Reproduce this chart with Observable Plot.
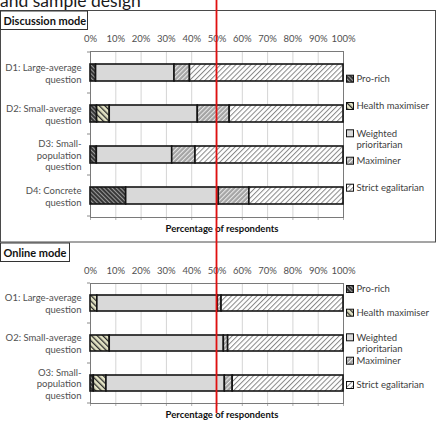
<!DOCTYPE html>
<html>
<head>
<meta charset="utf-8">
<script src="https://cdn.jsdelivr.net/npm/d3@7"></script>
<script src="https://cdn.jsdelivr.net/npm/@observablehq/plot@0.6"></script>
<style>
  html, body { margin: 0; padding: 0; background: #fff; }
  #page { position: relative; width: 438px; height: 424px; overflow: hidden; background: #fff; font-family: Lato, sans-serif; }
  #page > .panel { position: absolute; left: 0; }
  #overlay { position: absolute; left: 0; top: 0; pointer-events: none; }
</style>
</head>
<body>
<div id="page"></div>
<script>
// Respondent types, in stacking order
const types = ["Pro-rich", "Health maximiser", "Weighted prioritarian", "Maximiner", "Strict egalitarian"];

// Percentage axis ticks
const xTicks = [0, 10, 20, 30, 40, 50, 60, 70, 80, 90, 100];

// Discussion mode (percent of respondents)
const discussionQuestions = ["D1: Large-average\nquestion", "D2: Small-average\nquestion", "D3: Small-\npopulation\nquestion", "D4: Concrete\nquestion"];
const discussionProRich   = [2.2, 2.6, 2.5, 14.1];
const discussionHealthMax = [0, 5.0, 0, 0];
const discussionWeighted  = [31.0, 34.8, 29.8, 36.6];
const discussionMaximiner = [6.1, 12.6, 9.2, 12.1];
const discussionStrict    = [60.7, 45.0, 58.5, 37.2];

// Online mode (percent of respondents)
const onlineQuestions = ["O1: Large-average\nquestion", "O2: Small-average\nquestion", "O3: Small-\npopulation\nquestion"];
const onlineProRich   = [0, 0, 1.3];
const onlineHealthMax = [2.7, 7.6, 5.0];
const onlineWeighted  = [47.6, 45.1, 46.8];
const onlineMaximiner = [1.5, 1.7, 3.1];
const onlineStrict    = [48.2, 45.6, 43.8];

const page = d3.select("#page");

// Overlay holds the hatch patterns plus the panel furniture
const overlay = page.append("svg").attr("id", "overlay").attr("width", 438).attr("height", 424);
const defs = overlay.append("defs");
const hatches = [
  { bg: "#353535", line: "#9a9a9a", size: 3, angle: -45, w: 1.1 },
  { bg: "#e3e3c4", line: "#2e2e2e", size: 4, angle: -45, w: 1.6 },
  { bg: "#d9d9d9", line: null },
  { bg: "#a4a4a4", line: "#ececec", size: 3.2, angle: 45, w: 1 },
  { bg: "#ffffff", line: "#888888", size: 3.6, angle: 45, w: 1 }
];
hatches.forEach((h, i) => {
  const p = defs.append("pattern").attr("id", `hatch-${i}`)
    .attr("patternUnits", "userSpaceOnUse")
    .attr("width", h.size || 4).attr("height", h.size || 4);
  if (h.angle) p.attr("patternTransform", `rotate(${h.angle})`);
  p.append("rect").attr("width", h.size || 4).attr("height", h.size || 4).attr("fill", h.bg);
  if (h.line) p.append("line").attr("x1", 0.5).attr("x2", 0.5).attr("y1", 0).attr("y2", h.size)
    .attr("stroke", h.line).attr("stroke-width", h.w);
});

function panel(questions, series, top, height, pad) {
  const rows = [];
  questions.forEach((q, i) => types.forEach((t, j) => {
    const v = series[j][i];
    if (v > 0) rows.push({ question: q, type: t, value: v });
  }));
  const plot = Plot.plot({
    width: 438, height,
    marginLeft: 90, marginRight: 95, marginTop: 21, marginBottom: 5,
    style: { background: "transparent", fontFamily: "Lato, sans-serif", fontSize: "9.5px", color: "#505050" },
    x: { domain: [0, 100] },
    y: { domain: questions, paddingInner: pad, paddingOuter: pad / 2 },
    color: { domain: types, range: types.map((t, i) => `url(#hatch-${i})`) },
    marks: [
      Plot.gridX(xTicks, { stroke: "#d4d4d4", strokeOpacity: 1 }),
      Plot.axisX(xTicks, { anchor: "top", tickSize: 0, tickPadding: 10, tickFormat: d => d + "%", label: null }),
      Plot.axisX(xTicks, { anchor: "bottom", tickSize: 3, tickFormat: () => "", label: null, stroke: "#b0b0b0" }),
      Plot.frame({ stroke: "#7a7a7a" }),
      Plot.axisY({ tickSize: 0, tickPadding: 9, label: null, lineHeight: 1.23 }),
      Plot.barX(rows, Plot.stackX({ x: "value", y: "question", fill: "type", order: types, stroke: "#141414", strokeWidth: 1.6 }))
    ]
  });
  plot.classList.add("panel");
  plot.style.top = top + "px";
  plot.style.position = "absolute";
  page.node().insertBefore(plot, overlay.node());

  // short ticks on the left edge at the band boundaries
  const y = plot.scale("y"), x = plot.scale("x");
  const gap = (y.step - y.bandwidth) / 2;
  const bounds = questions.map(q => y.apply(q) - gap);
  bounds.push(y.apply(questions[questions.length - 1]) + y.bandwidth + gap);
  d3.select(plot).append("g").selectAll("line").data(bounds).join("line")
    .attr("x1", x.apply(0) - 3).attr("x2", x.apply(0))
    .attr("y1", d => d).attr("y2", d => d)
    .attr("stroke", "#8a8a8a");
  return { plot, x, top, height };
}

const discussion = panel(discussionQuestions,
  [discussionProRich, discussionHealthMax, discussionWeighted, discussionMaximiner, discussionStrict], 30, 192, 0.58);
const online = panel(onlineQuestions,
  [onlineProRich, onlineHealthMax, onlineWeighted, onlineMaximiner, onlineStrict], 262, 146, 0.59);

// Section heading carried over from the page above
overlay.append("text").attr("x", 0).attr("y", 7)
  .attr("font-size", 17.5).attr("fill", "#1a1a1a").text("and sample design");

// Panel outline
overlay.append("rect").attr("x", 0.5).attr("y", 10.5).attr("width", 435).attr("height", 231.5)
  .attr("fill", "none").attr("stroke", "#4a4a4a");

function modeLabel(text, y0, w) {
  overlay.append("rect").attr("x", 0.5).attr("y", y0 + 0.5).attr("width", w).attr("height", 18.5)
    .attr("fill", "#fff").attr("stroke", "#333");
  overlay.append("text").attr("x", 3.5).attr("y", y0 + 14)
    .attr("font-size", 11).attr("font-weight", "bold").attr("fill", "#111").text(text);
}
modeLabel("Discussion mode", 10.5, 87);
modeLabel("Online mode", 242.5, 69);

function axisTitle(y) {
  overlay.append("text").attr("x", 222).attr("y", y).attr("dy", "0.35em")
    .attr("text-anchor", "middle").attr("font-size", 9.5).attr("font-weight", "bold")
    .attr("fill", "#111").text("Percentage of respondents");
}
axisTitle(229);
axisTitle(415);

function legend(ys) {
  types.forEach((t, i) => {
    const cy = ys[i];
    overlay.append("rect").attr("x", 346.5).attr("y", cy - 3.5).attr("width", 7).attr("height", 7)
      .attr("fill", `url(#hatch-${i})`).attr("stroke", "#111").attr("stroke-width", 1);
    const lines = t === "Weighted prioritarian" ? ["Weighted", "prioritarian"] : [t];
    lines.forEach((l, k) => overlay.append("text").attr("x", 356.5).attr("y", cy + k * 11.7)
      .attr("dy", "0.35em").attr("font-size", 9.5).attr("fill", "#404040").text(l));
  });
}
legend([78.7, 106, 133.3, 160.7, 187.7]);
legend([289, 312.7, 337.3, 360.7, 385]);

// Majority marker at 50%
const x50 = discussion.x.apply(50);
overlay.append("line").attr("x1", x50).attr("x2", x50).attr("y1", 0).attr("y2", 413)
  .attr("stroke", "#e01010").attr("stroke-width", 1.8);
</script>
</body>
</html>
